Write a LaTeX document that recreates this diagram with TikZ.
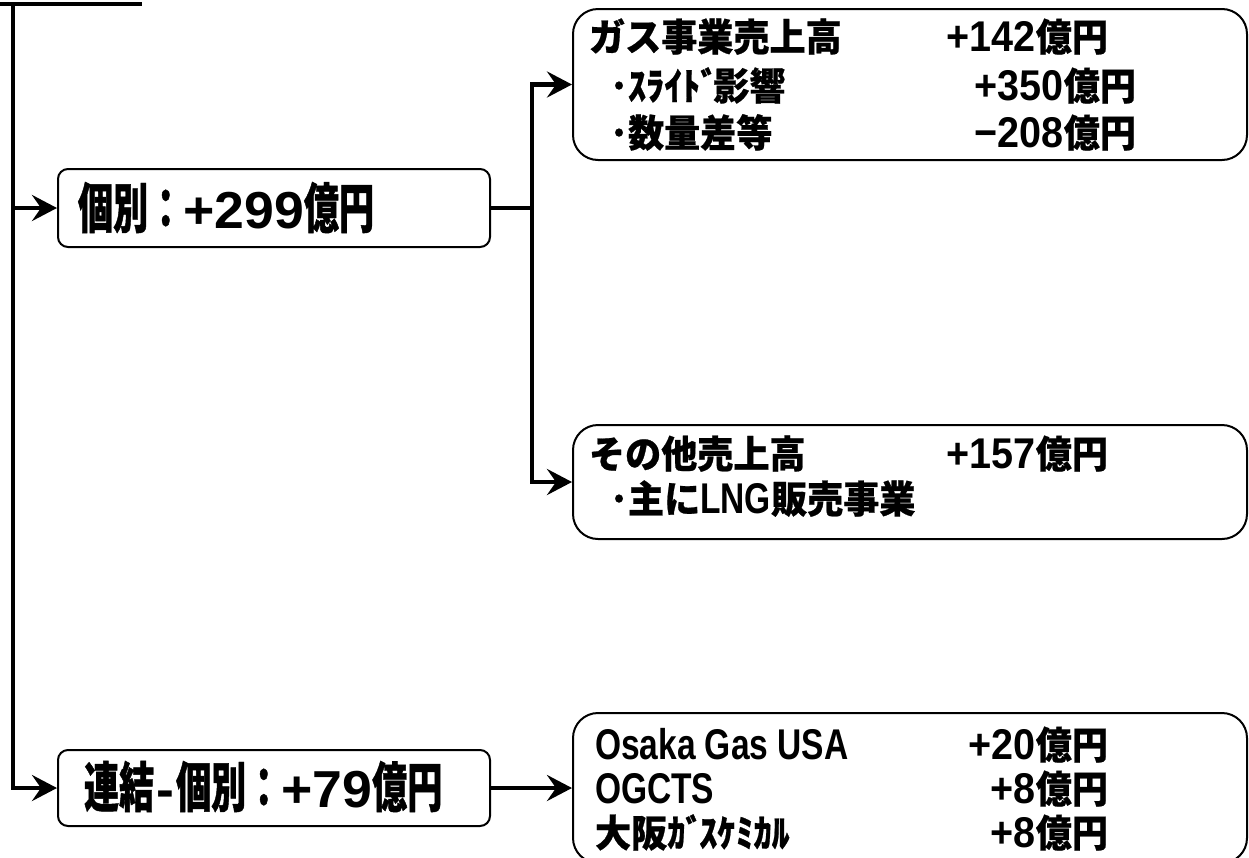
\documentclass[tikz,border=0pt]{standalone}
\usepackage{fontspec}
\usetikzlibrary{arrows.meta}
\newfontfamily\jpA{Noto Sans CJK JP}[FakeStretch=0.65,FakeBold=0.8]
\newfontfamily\jpB{Noto Sans CJK JP}[FakeStretch=0.95,FakeBold=0.6]
\newfontfamily\laA{Liberation Sans}[FakeStretch=1.03]
\newfontfamily\laB{Liberation Sans}[FakeStretch=0.78]
\newfontfamily\laC{Liberation Sans}[FakeStretch=0.92]
\newcommand\JpBig[1]{{\jpA\bfseries\fontsize{54}{54}\selectfont #1}}
\newcommand\LaBig[1]{{\laA\bfseries\fontsize{52}{52}\selectfont #1}}
\newcommand\JpRow[1]{{\jpB\bfseries\fontsize{38}{38}\selectfont #1}}
\newcommand\LaRow[1]{{\laB\bfseries\fontsize{43}{43}\selectfont #1}}
\newcommand\NumRow[1]{{\laC\bfseries\fontsize{43}{43}\selectfont #1}}
\begin{document}
\begin{tikzpicture}[x=1pt,y=-1pt,
  mainbox/.style={draw, line width=2pt, rounded corners=10pt, inner sep=0pt,
    minimum width=432pt, minimum height=78pt},
  rowbox/.style={draw, line width=2pt, rounded corners=25pt, inner sep=0pt,
    minimum width=674pt},
  conn/.style={line width=4.5pt},
  arr/.style={-{Stealth[length=25pt,width=26pt,inset=9pt]}},
  txt/.style={inner sep=0pt, outer sep=0pt, anchor=base west},
  txr/.style={inner sep=0pt, outer sep=0pt, anchor=base east}]
\useasboundingbox (0,0) rectangle (1249,857);

% boxes
\node[mainbox] (b1) at (274,208) {};
\node[mainbox, minimum height=76pt] (b2) at (274,788) {};
\node[rowbox, minimum height=151pt] (r1) at (910,84.5) {};
\node[rowbox, minimum height=114pt] (r2) at (910,482) {};
\node[rowbox, minimum height=150pt] (r3) at (910,788) {};

% main texts
\node[txt] (t1) at (78,228) {\JpBig{個別：}\LaBig{+299}\JpBig{億円}};
\node[txt] (t2) at (84,807) {\JpBig{連結}\LaBig{\hspace{2pt}-\hspace{2pt}}\JpBig{個別：}\LaBig{+79}\JpBig{億円}};

% box r1
\node[txt] (r1a) at (589,51) {\JpRow{ガス事業売上高}};
\node[txr] (r1av) at (1108,51) {\NumRow{+142}\JpRow{億円}};
\node[txt] (r1b) at (610,100) {\JpRow{･ｽﾗｲﾄﾞ\hspace{-5pt}影響}};
\node[txr] (r1bv) at (1136,100) {\NumRow{+350}\JpRow{億円}};
\node[txt] (r1c) at (610,147) {\JpRow{･数量差等}};
\node[txr] (r1cv) at (1136,147) {\NumRow{−208}\JpRow{億円}};

% box r2
\node[txt] (r2a) at (589,468) {\JpRow{その他売上高}};
\node[txr] (r2av) at (1108,468) {\NumRow{+157}\JpRow{億円}};
\node[txt] (r2b) at (610,513) {\JpRow{･主に}\LaRow{LNG}\JpRow{販売事業}};

% box r3
\node[txt] (r3a) at (595,759) {\LaRow{Osaka Gas USA}};
\node[txr] (r3av) at (1108,759) {\NumRow{+20}\JpRow{億円}};
\node[txt] (r3b) at (595,803) {\LaRow{OGCTS}};
\node[txr] (r3bv) at (1108,803) {\NumRow{+8}\JpRow{億円}};
\node[txt] (r3c) at (595,847) {\JpRow{大阪ｶﾞ\hspace{-4pt}ｽｹﾐｶﾙ}};
\node[txr] (r3cv) at (1108,847) {\NumRow{+8}\JpRow{億円}};

% connectors
\coordinate (hl) at (0,4);
\coordinate (hr) at (142,4);
\coordinate (vt) at (13,4);
\coordinate (j1) at (532,208);
\draw[conn] (hl) -- (hr);
\draw[conn,arr] (vt) |- (b2.west);
\draw[conn,arr] (vt |- b1.west) -- (b1.west);
\draw[conn] (b1.east) -- (j1);
\draw[conn,arr] (j1) |- (r1.west);
\draw[conn,arr] (j1) |- (r2.west);
\draw[conn,arr] (b2.east) -- (r3.west);
\end{tikzpicture}
\end{document}
